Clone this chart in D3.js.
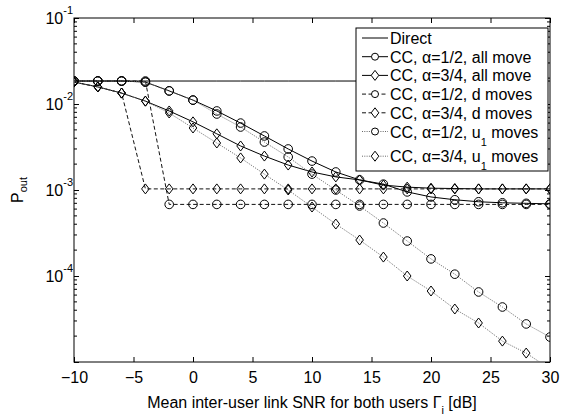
<!DOCTYPE html>
<html>
<head>
<meta charset="utf-8">
<script src="https://cdn.jsdelivr.net/npm/d3@7"></script>
<style>
  body { margin: 0; background: #fff; }
  svg { font-family: "Liberation Sans", Arial, sans-serif; }
</style>
</head>
<body>
<svg width="564" height="415"></svg>
<script>
// Mean inter-user link SNR (dB)
const snr = [-10, -8, -6, -4, -2, 0, 2, 4, 6, 8, 10, 12, 14, 16, 18, 20, 22, 24, 26, 28, 30];

// Outage probability
const direct = [0.0185, 0.0185, 0.0185, 0.0185, 0.0185, 0.0185, 0.0185, 0.0185, 0.0185, 0.0185, 0.0185,
    0.0185, 0.0185, 0.0185, 0.0185, 0.0185, 0.0185, 0.0185, 0.0185, 0.0185, 0.0185];
const allHalf = [0.0185, 0.0185, 0.0185, 0.0180, 0.0142, 0.0111, 0.0083, 0.0060, 0.00425, 0.0030, 0.00217,
    0.00162, 0.00131, 0.00117, 0.00095, 0.00083, 0.00077, 0.00073, 0.00071, 0.00070, 0.00069];
const allThreeQ = [0.0180, 0.0158, 0.0134, 0.0108, 0.0083, 0.0062, 0.0045, 0.00325, 0.00248, 0.00195, 0.00162,
    0.00142, 0.00131, 0.00114, 0.00108, 0.00105, 0.00104, 0.00103, 0.00103, 0.00103, 0.00103];
const dHalf = [0.0185, 0.0185, 0.0185, 0.0185, 0.00068, 0.00068, 0.00068, 0.00068, 0.00068, 0.00068, 0.00068,
    0.00068, 0.00068, 0.00068, 0.00068, 0.00068, 0.00068, 0.00068, 0.00068, 0.00068, 0.00068];
const dThreeQ = [0.0180, 0.0158, 0.0134, 0.00103, 0.00103, 0.00103, 0.00103, 0.00103, 0.00103, 0.00103, 0.00103,
    0.00103, 0.00103, 0.00103, 0.00103, 0.00103, 0.00103, 0.00103, 0.00103, 0.00103, 0.00103];
const u1Half = [0.0185, 0.0185, 0.0185, 0.0180, 0.0142, 0.0111, 0.00765, 0.0054, 0.00361, 0.00242, 0.00153,
    0.0010, 0.000652, 0.000413, 0.000255, 0.000158, 0.000105, 0.0000652, 0.0000436, 0.0000277, 0.0000195];
const u1ThreeQ = [0.0180, 0.0158, 0.0134, 0.0108, 0.00786, 0.00526, 0.00352, 0.00236, 0.00153, 0.0010, 0.000634,
    0.000402, 0.000262, 0.000166, 0.0001, 0.0000669, 0.0000413, 0.0000284, 0.0000175, 0.0000127, 0.0000083];

const xTicks = [-10, -5, 0, 5, 10, 15, 20, 25, 30];
const yTicks = [1e-1, 1e-2, 1e-3, 1e-4, 1e-5];
const yTickExp = ["-1", "-2", "-3", "-4"];

const series = [
    { name: "Direct", values: direct, dash: null, marker: null },
    { name: "CC, \u03b1=1/2, all move", values: allHalf, dash: null, marker: "circle" },
    { name: "CC, \u03b1=3/4, all move", values: allThreeQ, dash: null, marker: "diamond" },
    { name: "CC, \u03b1=1/2, d moves", values: dHalf, dash: "dashed", marker: "circle" },
    { name: "CC, \u03b1=3/4, d moves", values: dThreeQ, dash: "dashed", marker: "diamond" },
    { name: "CC, \u03b1=1/2, u", sub: "1", tail: " moves", values: u1Half, dash: "dotted", marker: "circle" },
    { name: "CC, \u03b1=3/4, u", sub: "1", tail: " moves", values: u1ThreeQ, dash: "dotted", marker: "diamond" }
];

const svg = d3.select("svg"),
    margin = { top: 18, right: 14, bottom: 53, left: 74 },
    width = +svg.attr("width") - margin.left - margin.right,
    height = +svg.attr("height") - margin.top - margin.bottom,
    g = svg.append("g").attr("transform", `translate(${margin.left},${margin.top})`);

const x = d3.scaleLinear().domain([-10, 30]).range([0, width]);
const y = d3.scaleLog().domain([1e-5, 1e-1]).range([height, 0]);

// line styles
const dashes = { dashed: "4,2.5", dotted: "1,1.3" };
const strokes = { dashed: "#111", dotted: "#666" };

svg.append("defs").append("clipPath").attr("id", "plot-clip")
    .append("rect").attr("width", width).attr("height", height);

// Axes: MATLAB-like box with inward ticks on every side
const bottomAxis = g.append("g")
    .attr("transform", `translate(0,${height})`)
    .call(d3.axisBottom(x).tickValues(xTicks).tickSizeInner(-5).tickSizeOuter(0).tickPadding(10).tickFormat(d3.format("d")));
g.append("g")
    .call(d3.axisTop(x).tickValues(xTicks).tickSizeInner(-5).tickSizeOuter(0).tickFormat(""));
g.append("g")
    .call(d3.axisLeft(y).tickValues(yTicks).tickSizeInner(-5).tickSizeOuter(0).tickFormat(""));
g.append("g")
    .attr("transform", `translate(${width},0)`)
    .call(d3.axisRight(y).tickValues(yTicks).tickSizeInner(-5).tickSizeOuter(0).tickFormat(""));

g.selectAll(".domain").remove();
g.selectAll(".tick line").attr("stroke", "#000");
bottomAxis.selectAll("text").attr("font-size", 16).attr("fill", "#000").attr("font-family", null);

// Minor log ticks
const minor = [];
[1e-5, 1e-4, 1e-3, 1e-2].forEach(dec => {
    for (let m = 2; m <= 9; m++) minor.push(dec * m);
});
g.selectAll(".minor-left").data(minor).enter().append("line")
    .attr("x1", 0).attr("x2", 3)
    .attr("y1", d => y(d)).attr("y2", d => y(d))
    .attr("stroke", "#000");
g.selectAll(".minor-right").data(minor).enter().append("line")
    .attr("x1", width).attr("x2", width - 3)
    .attr("y1", d => y(d)).attr("y2", d => y(d))
    .attr("stroke", "#000");

// Y tick labels 10^k
const yLab = g.selectAll(".ylab").data(yTicks.slice(0, 4)).enter().append("text")
    .attr("x", -1)
    .attr("y", d => y(d) + 6)
    .attr("text-anchor", "end")
    .attr("font-size", 16);
yLab.append("tspan").text("10");
yLab.append("tspan").attr("dy", -10).attr("font-size", 11).text((d, i) => yTickExp[i]);

// Frame
g.append("rect")
    .attr("width", width).attr("height", height)
    .attr("fill", "none").attr("stroke", "#000").attr("stroke-width", 1);

// Data lines
const plot = g.append("g").attr("clip-path", "url(#plot-clip)");
const line = d3.line().x((d, i) => x(snr[i])).y(d => y(d));

const diamond = "M0,-5L3.8,0L0,5L-3.8,0Z";

function drawMarker(sel, type, r) {
    if (type === "circle") {
        sel.append("circle").attr("r", r);
    } else if (type === "diamond") {
        sel.append("path").attr("d", diamond);
    }
}

series.forEach(s => {
    plot.append("path")
        .datum(s.values)
        .attr("d", line)
        .attr("fill", "none")
        .attr("stroke", s.dash ? strokes[s.dash] : "#000")
        .attr("stroke-width", 1)
        .attr("stroke-dasharray", s.dash ? dashes[s.dash] : null);
    if (s.marker) {
        const m = plot.append("g").selectAll("g")
            .data(s.values).enter().append("g")
            .attr("transform", (d, i) => `translate(${x(snr[i])},${y(d)})`);
        drawMarker(m, s.marker, 4.3);
        m.selectAll("circle, path").attr("fill", "none").attr("stroke", "#000").attr("stroke-width", 1);
    }
});

// Axis titles
const xt = svg.append("text")
    .attr("x", margin.left + width / 2)
    .attr("y", 408)
    .attr("text-anchor", "middle")
    .attr("font-size", 16);
xt.append("tspan").text("Mean inter-user link SNR for both users \u0393");
xt.append("tspan").attr("dy", 6).attr("font-size", 11).text("i");
xt.append("tspan").attr("dy", -6).text(" [dB]");

const yt = svg.append("text")
    .attr("transform", `translate(23,${margin.top + height / 2}) rotate(-90)`)
    .attr("text-anchor", "middle")
    .attr("font-size", 16);
yt.append("tspan").text("P");
yt.append("tspan").attr("dy", 4).attr("font-size", 11).text("out");

// Legend
const lg = svg.append("g").attr("transform", "translate(356,28)");
lg.append("rect")
    .attr("width", 192).attr("height", 143)
    .attr("fill", "#fff").attr("stroke", "#000").attr("stroke-width", 1);

const item = lg.selectAll(".legend")
    .data(series).enter().append("g")
    .attr("transform", (d, i) => `translate(0,${10 + i * 18.7 + (i === 6 ? 6 : 0)})`);

item.append("line")
    .attr("x1", 6).attr("x2", 32)
    .attr("stroke", d => d.dash ? strokes[d.dash] : "#000")
    .attr("stroke-dasharray", d => d.dash ? dashes[d.dash] : null);
item.each(function (d) {
    if (!d.marker) return;
    const m = d3.select(this).append("g").attr("transform", "translate(19,0)");
    drawMarker(m, d.marker, 3.5);
    m.selectAll("circle, path").attr("fill", "#fff").attr("stroke", "#000");
});
const lt = item.append("text")
    .attr("x", 34)
    .attr("y", 6)
    .attr("font-size", 16);
lt.append("tspan").text(d => d.name);
lt.filter(d => d.sub).append("tspan").attr("dy", 8).attr("font-size", 11).text(d => d.sub);
lt.filter(d => d.sub).append("tspan").attr("dy", -8).text(d => d.tail);
</script>
</body>
</html>
